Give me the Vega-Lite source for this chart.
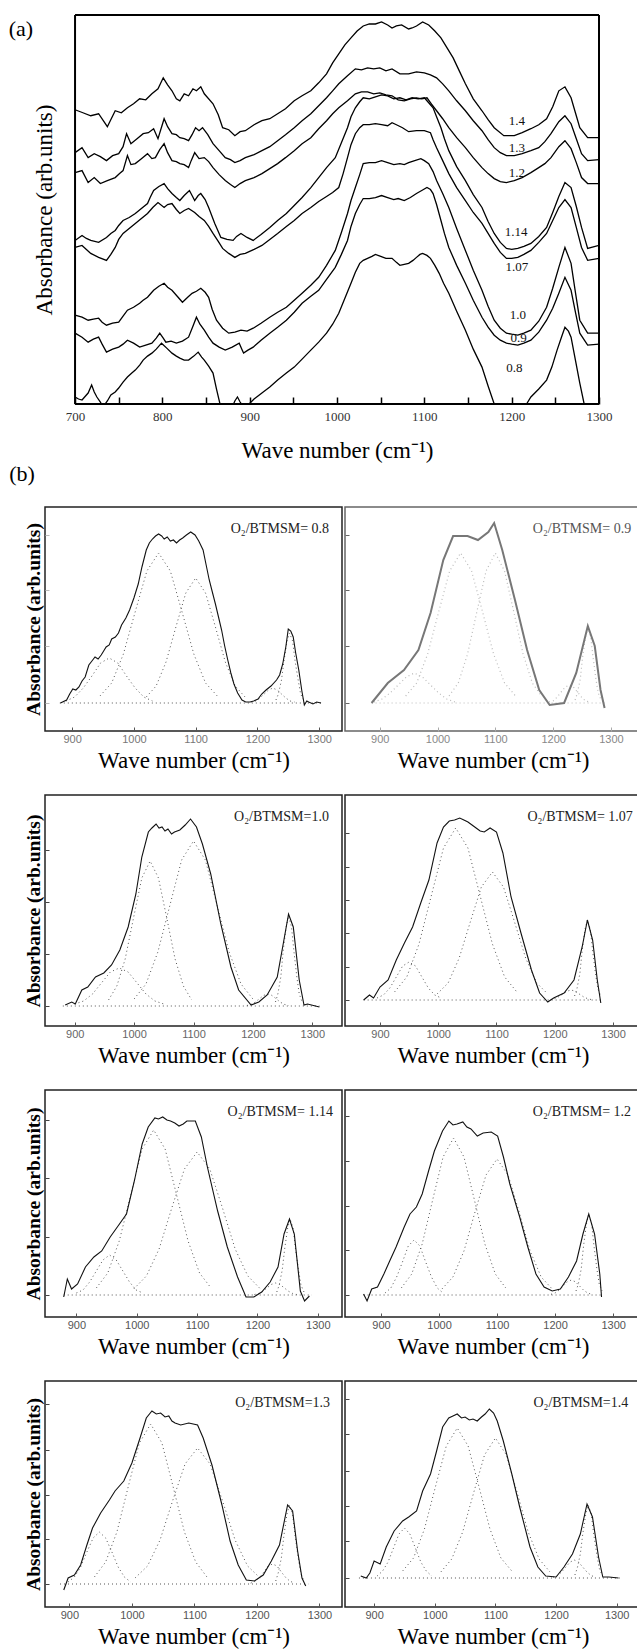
{
"$schema":"https://vega.github.io/schema/vega-lite/v6.json",
"background":"white",
"padding":{"left":8,"top":14,"right":0,"bottom":0},
"config":{"axis":{"grid":false},"view":{"stroke":"#000"}},
"datasets":{
"a":[
{"s":"1.4","x":700,"y":295},{"s":"1.4","x":709,"y":292},{"s":"1.4","x":718,"y":289},{"s":"1.4","x":727,"y":291},{"s":"1.4","x":737,"y":278},{"s":"1.4","x":746,"y":294},{"s":"1.4","x":753,"y":292},{"s":"1.4","x":760,"y":297},{"s":"1.4","x":767,"y":301},{"s":"1.4","x":774,"y":306},{"s":"1.4","x":781,"y":305},{"s":"1.4","x":788,"y":311},{"s":"1.4","x":795,"y":316},{"s":"1.4","x":801,"y":327},{"s":"1.4","x":806,"y":320},{"s":"1.4","x":811,"y":314},{"s":"1.4","x":816,"y":306},{"s":"1.4","x":820,"y":304},{"s":"1.4","x":825,"y":311},{"s":"1.4","x":830,"y":309},{"s":"1.4","x":835,"y":316},{"s":"1.4","x":839,"y":314},{"s":"1.4","x":844,"y":318},{"s":"1.4","x":848,"y":311},{"s":"1.4","x":858,"y":301},{"s":"1.4","x":864,"y":290},{"s":"1.4","x":869,"y":277},{"s":"1.4","x":876,"y":275},{"s":"1.4","x":883,"y":269},{"s":"1.4","x":889,"y":273},{"s":"1.4","x":895,"y":274},{"s":"1.4","x":905,"y":280},{"s":"1.4","x":914,"y":284},{"s":"1.4","x":923,"y":286},{"s":"1.4","x":932,"y":291},{"s":"1.4","x":941,"y":296},{"s":"1.4","x":951,"y":304},{"s":"1.4","x":960,"y":309},{"s":"1.4","x":970,"y":314},{"s":"1.4","x":979,"y":322},{"s":"1.4","x":988,"y":331},{"s":"1.4","x":995,"y":342},{"s":"1.4","x":1002,"y":351},{"s":"1.4","x":1009,"y":360},{"s":"1.4","x":1016,"y":367},{"s":"1.4","x":1023,"y":374},{"s":"1.4","x":1030,"y":379},{"s":"1.4","x":1037,"y":381},{"s":"1.4","x":1044,"y":381},{"s":"1.4","x":1051,"y":383},{"s":"1.4","x":1058,"y":380},{"s":"1.4","x":1063,"y":377},{"s":"1.4","x":1068,"y":379},{"s":"1.4","x":1074,"y":380},{"s":"1.4","x":1082,"y":376},{"s":"1.4","x":1086,"y":377},{"s":"1.4","x":1091,"y":379},{"s":"1.4","x":1098,"y":383},{"s":"1.4","x":1105,"y":380},{"s":"1.4","x":1112,"y":374},{"s":"1.4","x":1119,"y":367},{"s":"1.4","x":1126,"y":357},{"s":"1.4","x":1133,"y":347},{"s":"1.4","x":1140,"y":334},{"s":"1.4","x":1147,"y":321},{"s":"1.4","x":1156,"y":306},{"s":"1.4","x":1166,"y":294},{"s":"1.4","x":1173,"y":285},{"s":"1.4","x":1180,"y":277},{"s":"1.4","x":1191,"y":269},{"s":"1.4","x":1203,"y":269},{"s":"1.4","x":1212,"y":272},{"s":"1.4","x":1222,"y":276},{"s":"1.4","x":1231,"y":280},{"s":"1.4","x":1240,"y":286},{"s":"1.4","x":1247,"y":298},{"s":"1.4","x":1254,"y":314},{"s":"1.4","x":1261,"y":318},{"s":"1.4","x":1268,"y":307},{"s":"1.4","x":1273,"y":292},{"s":"1.4","x":1278,"y":277},{"s":"1.4","x":1287,"y":267},{"s":"1.4","x":1300,"y":267},
{"s":"1.3","x":700,"y":252},{"s":"1.3","x":708,"y":257},{"s":"1.3","x":715,"y":247},{"s":"1.3","x":722,"y":251},{"s":"1.3","x":729,"y":248},{"s":"1.3","x":736,"y":244},{"s":"1.3","x":743,"y":249},{"s":"1.3","x":750,"y":251},{"s":"1.3","x":755,"y":258},{"s":"1.3","x":759,"y":271},{"s":"1.3","x":764,"y":261},{"s":"1.3","x":771,"y":266},{"s":"1.3","x":778,"y":271},{"s":"1.3","x":784,"y":272},{"s":"1.3","x":790,"y":276},{"s":"1.3","x":795,"y":266},{"s":"1.3","x":802,"y":286},{"s":"1.3","x":806,"y":278},{"s":"1.3","x":811,"y":271},{"s":"1.3","x":816,"y":270},{"s":"1.3","x":820,"y":267},{"s":"1.3","x":825,"y":266},{"s":"1.3","x":830,"y":264},{"s":"1.3","x":834,"y":270},{"s":"1.3","x":838,"y":277},{"s":"1.3","x":842,"y":274},{"s":"1.3","x":846,"y":277},{"s":"1.3","x":852,"y":270},{"s":"1.3","x":858,"y":261},{"s":"1.3","x":865,"y":254},{"s":"1.3","x":872,"y":247},{"s":"1.3","x":878,"y":245},{"s":"1.3","x":883,"y":242},{"s":"1.3","x":889,"y":244},{"s":"1.3","x":895,"y":247},{"s":"1.3","x":905,"y":250},{"s":"1.3","x":914,"y":254},{"s":"1.3","x":923,"y":258},{"s":"1.3","x":932,"y":264},{"s":"1.3","x":941,"y":270},{"s":"1.3","x":951,"y":277},{"s":"1.3","x":960,"y":284},{"s":"1.3","x":970,"y":291},{"s":"1.3","x":979,"y":299},{"s":"1.3","x":988,"y":307},{"s":"1.3","x":995,"y":314},{"s":"1.3","x":1002,"y":321},{"s":"1.3","x":1012,"y":329},{"s":"1.3","x":1021,"y":336},{"s":"1.3","x":1028,"y":335},{"s":"1.3","x":1035,"y":337},{"s":"1.3","x":1042,"y":336},{"s":"1.3","x":1049,"y":337},{"s":"1.3","x":1056,"y":334},{"s":"1.3","x":1063,"y":336},{"s":"1.3","x":1072,"y":331},{"s":"1.3","x":1082,"y":331},{"s":"1.3","x":1091,"y":333},{"s":"1.3","x":1100,"y":332},{"s":"1.3","x":1107,"y":330},{"s":"1.3","x":1114,"y":327},{"s":"1.3","x":1121,"y":321},{"s":"1.3","x":1128,"y":314},{"s":"1.3","x":1137,"y":304},{"s":"1.3","x":1147,"y":294},{"s":"1.3","x":1156,"y":284},{"s":"1.3","x":1166,"y":274},{"s":"1.3","x":1173,"y":265},{"s":"1.3","x":1180,"y":257},{"s":"1.3","x":1187,"y":252},{"s":"1.3","x":1194,"y":249},{"s":"1.3","x":1203,"y":249},{"s":"1.3","x":1212,"y":251},{"s":"1.3","x":1222,"y":254},{"s":"1.3","x":1231,"y":257},{"s":"1.3","x":1238,"y":263},{"s":"1.3","x":1245,"y":271},{"s":"1.3","x":1254,"y":283},{"s":"1.3","x":1261,"y":289},{"s":"1.3","x":1268,"y":281},{"s":"1.3","x":1274,"y":266},{"s":"1.3","x":1280,"y":251},{"s":"1.3","x":1287,"y":244},{"s":"1.3","x":1300,"y":245},
{"s":"1.2","x":700,"y":232},{"s":"1.2","x":708,"y":234},{"s":"1.2","x":715,"y":222},{"s":"1.2","x":722,"y":227},{"s":"1.2","x":729,"y":221},{"s":"1.2","x":737,"y":224},{"s":"1.2","x":746,"y":227},{"s":"1.2","x":751,"y":231},{"s":"1.2","x":755,"y":234},{"s":"1.2","x":760,"y":249},{"s":"1.2","x":764,"y":240},{"s":"1.2","x":769,"y":241},{"s":"1.2","x":776,"y":246},{"s":"1.2","x":783,"y":251},{"s":"1.2","x":788,"y":246},{"s":"1.2","x":792,"y":247},{"s":"1.2","x":797,"y":255},{"s":"1.2","x":802,"y":261},{"s":"1.2","x":806,"y":252},{"s":"1.2","x":811,"y":244},{"s":"1.2","x":816,"y":243},{"s":"1.2","x":820,"y":241},{"s":"1.2","x":825,"y":240},{"s":"1.2","x":830,"y":237},{"s":"1.2","x":833,"y":244},{"s":"1.2","x":837,"y":252},{"s":"1.2","x":842,"y":246},{"s":"1.2","x":848,"y":247},{"s":"1.2","x":853,"y":243},{"s":"1.2","x":858,"y":237},{"s":"1.2","x":865,"y":230},{"s":"1.2","x":872,"y":224},{"s":"1.2","x":878,"y":220},{"s":"1.2","x":883,"y":217},{"s":"1.2","x":889,"y":221},{"s":"1.2","x":895,"y":224},{"s":"1.2","x":905,"y":227},{"s":"1.2","x":914,"y":231},{"s":"1.2","x":923,"y":236},{"s":"1.2","x":932,"y":241},{"s":"1.2","x":941,"y":247},{"s":"1.2","x":951,"y":254},{"s":"1.2","x":960,"y":261},{"s":"1.2","x":970,"y":267},{"s":"1.2","x":979,"y":276},{"s":"1.2","x":988,"y":284},{"s":"1.2","x":995,"y":291},{"s":"1.2","x":1002,"y":297},{"s":"1.2","x":1012,"y":304},{"s":"1.2","x":1021,"y":311},{"s":"1.2","x":1028,"y":313},{"s":"1.2","x":1035,"y":313},{"s":"1.2","x":1042,"y":311},{"s":"1.2","x":1049,"y":312},{"s":"1.2","x":1056,"y":310},{"s":"1.2","x":1063,"y":309},{"s":"1.2","x":1070,"y":305},{"s":"1.2","x":1077,"y":304},{"s":"1.2","x":1084,"y":306},{"s":"1.2","x":1091,"y":307},{"s":"1.2","x":1097,"y":306},{"s":"1.2","x":1103,"y":307},{"s":"1.2","x":1108,"y":301},{"s":"1.2","x":1114,"y":294},{"s":"1.2","x":1121,"y":286},{"s":"1.2","x":1128,"y":277},{"s":"1.2","x":1137,"y":267},{"s":"1.2","x":1147,"y":257},{"s":"1.2","x":1156,"y":247},{"s":"1.2","x":1166,"y":237},{"s":"1.2","x":1173,"y":231},{"s":"1.2","x":1180,"y":226},{"s":"1.2","x":1187,"y":223},{"s":"1.2","x":1194,"y":222},{"s":"1.2","x":1203,"y":224},{"s":"1.2","x":1212,"y":227},{"s":"1.2","x":1222,"y":232},{"s":"1.2","x":1231,"y":237},{"s":"1.2","x":1238,"y":241},{"s":"1.2","x":1245,"y":247},{"s":"1.2","x":1254,"y":258},{"s":"1.2","x":1261,"y":264},{"s":"1.2","x":1268,"y":256},{"s":"1.2","x":1274,"y":242},{"s":"1.2","x":1280,"y":227},{"s":"1.2","x":1287,"y":221},{"s":"1.2","x":1300,"y":221},
{"s":"1.14","x":700,"y":164},{"s":"1.14","x":708,"y":169},{"s":"1.14","x":713,"y":166},{"s":"1.14","x":718,"y":164},{"s":"1.14","x":727,"y":162},{"s":"1.14","x":736,"y":167},{"s":"1.14","x":741,"y":171},{"s":"1.14","x":746,"y":174},{"s":"1.14","x":750,"y":179},{"s":"1.14","x":755,"y":184},{"s":"1.14","x":762,"y":187},{"s":"1.14","x":769,"y":191},{"s":"1.14","x":776,"y":196},{"s":"1.14","x":783,"y":201},{"s":"1.14","x":786,"y":207},{"s":"1.14","x":790,"y":214},{"s":"1.14","x":796,"y":218},{"s":"1.14","x":802,"y":221},{"s":"1.14","x":806,"y":216},{"s":"1.14","x":811,"y":211},{"s":"1.14","x":816,"y":207},{"s":"1.14","x":820,"y":204},{"s":"1.14","x":825,"y":209},{"s":"1.14","x":831,"y":214},{"s":"1.14","x":834,"y":209},{"s":"1.14","x":837,"y":204},{"s":"1.14","x":841,"y":209},{"s":"1.14","x":844,"y":211},{"s":"1.14","x":849,"y":205},{"s":"1.14","x":853,"y":197},{"s":"1.14","x":860,"y":181},{"s":"1.14","x":867,"y":167},{"s":"1.14","x":874,"y":165},{"s":"1.14","x":881,"y":164},{"s":"1.14","x":885,"y":168},{"s":"1.14","x":890,"y":171},{"s":"1.14","x":897,"y":167},{"s":"1.14","x":904,"y":164},{"s":"1.14","x":913,"y":170},{"s":"1.14","x":923,"y":177},{"s":"1.14","x":932,"y":184},{"s":"1.14","x":942,"y":191},{"s":"1.14","x":951,"y":199},{"s":"1.14","x":960,"y":207},{"s":"1.14","x":970,"y":217},{"s":"1.14","x":979,"y":227},{"s":"1.14","x":988,"y":237},{"s":"1.14","x":998,"y":247},{"s":"1.14","x":1005,"y":262},{"s":"1.14","x":1012,"y":277},{"s":"1.14","x":1016,"y":288},{"s":"1.14","x":1021,"y":297},{"s":"1.14","x":1026,"y":303},{"s":"1.14","x":1030,"y":307},{"s":"1.14","x":1037,"y":306},{"s":"1.14","x":1044,"y":308},{"s":"1.14","x":1051,"y":310},{"s":"1.14","x":1058,"y":309},{"s":"1.14","x":1065,"y":306},{"s":"1.14","x":1072,"y":307},{"s":"1.14","x":1079,"y":305},{"s":"1.14","x":1086,"y":307},{"s":"1.14","x":1093,"y":306},{"s":"1.14","x":1100,"y":307},{"s":"1.14","x":1105,"y":302},{"s":"1.14","x":1110,"y":297},{"s":"1.14","x":1114,"y":288},{"s":"1.14","x":1119,"y":277},{"s":"1.14","x":1123,"y":266},{"s":"1.14","x":1128,"y":254},{"s":"1.14","x":1137,"y":238},{"s":"1.14","x":1147,"y":224},{"s":"1.14","x":1156,"y":210},{"s":"1.14","x":1166,"y":197},{"s":"1.14","x":1173,"y":183},{"s":"1.14","x":1180,"y":171},{"s":"1.14","x":1187,"y":162},{"s":"1.14","x":1194,"y":156},{"s":"1.14","x":1200,"y":155},{"s":"1.14","x":1207,"y":156},{"s":"1.14","x":1214,"y":158},{"s":"1.14","x":1222,"y":161},{"s":"1.14","x":1231,"y":168},{"s":"1.14","x":1240,"y":177},{"s":"1.14","x":1247,"y":192},{"s":"1.14","x":1254,"y":208},{"s":"1.14","x":1261,"y":222},{"s":"1.14","x":1268,"y":217},{"s":"1.14","x":1274,"y":198},{"s":"1.14","x":1280,"y":177},{"s":"1.14","x":1287,"y":156},{"s":"1.14","x":1300,"y":159},
{"s":"1.07","x":700,"y":157},{"s":"1.07","x":708,"y":159},{"s":"1.07","x":713,"y":155},{"s":"1.07","x":718,"y":151},{"s":"1.07","x":727,"y":147},{"s":"1.07","x":736,"y":144},{"s":"1.07","x":741,"y":150},{"s":"1.07","x":746,"y":157},{"s":"1.07","x":750,"y":165},{"s":"1.07","x":755,"y":171},{"s":"1.07","x":762,"y":176},{"s":"1.07","x":769,"y":181},{"s":"1.07","x":776,"y":186},{"s":"1.07","x":783,"y":191},{"s":"1.07","x":789,"y":197},{"s":"1.07","x":795,"y":202},{"s":"1.07","x":802,"y":197},{"s":"1.07","x":806,"y":200},{"s":"1.07","x":811,"y":201},{"s":"1.07","x":816,"y":195},{"s":"1.07","x":820,"y":191},{"s":"1.07","x":825,"y":194},{"s":"1.07","x":830,"y":196},{"s":"1.07","x":837,"y":192},{"s":"1.07","x":842,"y":188},{"s":"1.07","x":848,"y":184},{"s":"1.07","x":853,"y":178},{"s":"1.07","x":858,"y":171},{"s":"1.07","x":864,"y":163},{"s":"1.07","x":869,"y":156},{"s":"1.07","x":876,"y":151},{"s":"1.07","x":883,"y":147},{"s":"1.07","x":889,"y":150},{"s":"1.07","x":895,"y":151},{"s":"1.07","x":905,"y":155},{"s":"1.07","x":914,"y":159},{"s":"1.07","x":923,"y":165},{"s":"1.07","x":932,"y":171},{"s":"1.07","x":942,"y":178},{"s":"1.07","x":951,"y":184},{"s":"1.07","x":960,"y":191},{"s":"1.07","x":970,"y":197},{"s":"1.07","x":979,"y":203},{"s":"1.07","x":988,"y":208},{"s":"1.07","x":995,"y":212},{"s":"1.07","x":1002,"y":217},{"s":"1.07","x":1007,"y":231},{"s":"1.07","x":1012,"y":247},{"s":"1.07","x":1016,"y":260},{"s":"1.07","x":1021,"y":271},{"s":"1.07","x":1026,"y":277},{"s":"1.07","x":1030,"y":280},{"s":"1.07","x":1037,"y":280},{"s":"1.07","x":1044,"y":281},{"s":"1.07","x":1051,"y":280},{"s":"1.07","x":1058,"y":279},{"s":"1.07","x":1063,"y":282},{"s":"1.07","x":1068,"y":280},{"s":"1.07","x":1075,"y":277},{"s":"1.07","x":1082,"y":273},{"s":"1.07","x":1091,"y":274},{"s":"1.07","x":1100,"y":274},{"s":"1.07","x":1107,"y":272},{"s":"1.07","x":1110,"y":265},{"s":"1.07","x":1114,"y":257},{"s":"1.07","x":1121,"y":244},{"s":"1.07","x":1128,"y":231},{"s":"1.07","x":1137,"y":217},{"s":"1.07","x":1147,"y":204},{"s":"1.07","x":1156,"y":192},{"s":"1.07","x":1166,"y":181},{"s":"1.07","x":1173,"y":171},{"s":"1.07","x":1180,"y":161},{"s":"1.07","x":1187,"y":152},{"s":"1.07","x":1194,"y":146},{"s":"1.07","x":1200,"y":146},{"s":"1.07","x":1207,"y":147},{"s":"1.07","x":1214,"y":150},{"s":"1.07","x":1222,"y":154},{"s":"1.07","x":1231,"y":162},{"s":"1.07","x":1240,"y":171},{"s":"1.07","x":1247,"y":184},{"s":"1.07","x":1254,"y":197},{"s":"1.07","x":1261,"y":205},{"s":"1.07","x":1268,"y":197},{"s":"1.07","x":1274,"y":177},{"s":"1.07","x":1280,"y":157},{"s":"1.07","x":1287,"y":144},{"s":"1.07","x":1300,"y":146},
{"s":"1.0","x":700,"y":89},{"s":"1.0","x":708,"y":87},{"s":"1.0","x":715,"y":84},{"s":"1.0","x":721,"y":85},{"s":"1.0","x":727,"y":86},{"s":"1.0","x":731,"y":82},{"s":"1.0","x":736,"y":79},{"s":"1.0","x":743,"y":81},{"s":"1.0","x":750,"y":82},{"s":"1.0","x":755,"y":88},{"s":"1.0","x":760,"y":94},{"s":"1.0","x":767,"y":97},{"s":"1.0","x":774,"y":101},{"s":"1.0","x":778,"y":104},{"s":"1.0","x":783,"y":107},{"s":"1.0","x":787,"y":111},{"s":"1.0","x":790,"y":114},{"s":"1.0","x":796,"y":118},{"s":"1.0","x":802,"y":121},{"s":"1.0","x":806,"y":117},{"s":"1.0","x":811,"y":114},{"s":"1.0","x":817,"y":108},{"s":"1.0","x":823,"y":102},{"s":"1.0","x":829,"y":107},{"s":"1.0","x":834,"y":111},{"s":"1.0","x":839,"y":113},{"s":"1.0","x":844,"y":116},{"s":"1.0","x":849,"y":112},{"s":"1.0","x":853,"y":107},{"s":"1.0","x":857,"y":95},{"s":"1.0","x":862,"y":84},{"s":"1.0","x":869,"y":76},{"s":"1.0","x":876,"y":71},{"s":"1.0","x":883,"y":72},{"s":"1.0","x":890,"y":74},{"s":"1.0","x":897,"y":73},{"s":"1.0","x":904,"y":76},{"s":"1.0","x":913,"y":81},{"s":"1.0","x":923,"y":87},{"s":"1.0","x":932,"y":92},{"s":"1.0","x":942,"y":97},{"s":"1.0","x":951,"y":104},{"s":"1.0","x":960,"y":111},{"s":"1.0","x":970,"y":119},{"s":"1.0","x":979,"y":127},{"s":"1.0","x":988,"y":139},{"s":"1.0","x":998,"y":154},{"s":"1.0","x":1005,"y":172},{"s":"1.0","x":1012,"y":191},{"s":"1.0","x":1016,"y":204},{"s":"1.0","x":1021,"y":217},{"s":"1.0","x":1026,"y":230},{"s":"1.0","x":1030,"y":241},{"s":"1.0","x":1037,"y":242},{"s":"1.0","x":1044,"y":242},{"s":"1.0","x":1051,"y":244},{"s":"1.0","x":1058,"y":242},{"s":"1.0","x":1065,"y":240},{"s":"1.0","x":1072,"y":241},{"s":"1.0","x":1077,"y":240},{"s":"1.0","x":1082,"y":242},{"s":"1.0","x":1089,"y":244},{"s":"1.0","x":1096,"y":246},{"s":"1.0","x":1100,"y":244},{"s":"1.0","x":1105,"y":241},{"s":"1.0","x":1110,"y":233},{"s":"1.0","x":1114,"y":224},{"s":"1.0","x":1121,"y":211},{"s":"1.0","x":1128,"y":197},{"s":"1.0","x":1137,"y":176},{"s":"1.0","x":1147,"y":154},{"s":"1.0","x":1156,"y":134},{"s":"1.0","x":1166,"y":114},{"s":"1.0","x":1173,"y":98},{"s":"1.0","x":1180,"y":84},{"s":"1.0","x":1187,"y":76},{"s":"1.0","x":1194,"y":71},{"s":"1.0","x":1200,"y":70},{"s":"1.0","x":1207,"y":69},{"s":"1.0","x":1214,"y":71},{"s":"1.0","x":1222,"y":74},{"s":"1.0","x":1231,"y":83},{"s":"1.0","x":1240,"y":97},{"s":"1.0","x":1247,"y":116},{"s":"1.0","x":1254,"y":137},{"s":"1.0","x":1261,"y":157},{"s":"1.0","x":1268,"y":141},{"s":"1.0","x":1273,"y":112},{"s":"1.0","x":1278,"y":84},{"s":"1.0","x":1287,"y":71},{"s":"1.0","x":1300,"y":71},
{"s":"0.9","x":700,"y":71},{"s":"0.9","x":708,"y":67},{"s":"0.9","x":715,"y":62},{"s":"0.9","x":721,"y":65},{"s":"0.9","x":727,"y":67},{"s":"0.9","x":731,"y":60},{"s":"0.9","x":736,"y":52},{"s":"0.9","x":743,"y":55},{"s":"0.9","x":750,"y":57},{"s":"0.9","x":755,"y":60},{"s":"0.9","x":760,"y":64},{"s":"0.9","x":767,"y":61},{"s":"0.9","x":774,"y":57},{"s":"0.9","x":781,"y":59},{"s":"0.9","x":788,"y":61},{"s":"0.9","x":793,"y":66},{"s":"0.9","x":797,"y":71},{"s":"0.9","x":801,"y":66},{"s":"0.9","x":804,"y":62},{"s":"0.9","x":810,"y":63},{"s":"0.9","x":816,"y":61},{"s":"0.9","x":823,"y":63},{"s":"0.9","x":830,"y":67},{"s":"0.9","x":835,"y":78},{"s":"0.9","x":839,"y":87},{"s":"0.9","x":843,"y":80},{"s":"0.9","x":848,"y":74},{"s":"0.9","x":853,"y":67},{"s":"0.9","x":858,"y":61},{"s":"0.9","x":865,"y":57},{"s":"0.9","x":872,"y":54},{"s":"0.9","x":880,"y":57},{"s":"0.9","x":888,"y":61},{"s":"0.9","x":891,"y":55},{"s":"0.9","x":893,"y":51},{"s":"0.9","x":898,"y":54},{"s":"0.9","x":904,"y":57},{"s":"0.9","x":913,"y":64},{"s":"0.9","x":923,"y":71},{"s":"0.9","x":932,"y":77},{"s":"0.9","x":942,"y":84},{"s":"0.9","x":951,"y":92},{"s":"0.9","x":960,"y":101},{"s":"0.9","x":970,"y":108},{"s":"0.9","x":979,"y":114},{"s":"0.9","x":988,"y":125},{"s":"0.9","x":998,"y":137},{"s":"0.9","x":1005,"y":150},{"s":"0.9","x":1012,"y":164},{"s":"0.9","x":1016,"y":178},{"s":"0.9","x":1021,"y":191},{"s":"0.9","x":1026,"y":200},{"s":"0.9","x":1030,"y":206},{"s":"0.9","x":1037,"y":206},{"s":"0.9","x":1044,"y":207},{"s":"0.9","x":1051,"y":209},{"s":"0.9","x":1058,"y":207},{"s":"0.9","x":1065,"y":205},{"s":"0.9","x":1070,"y":206},{"s":"0.9","x":1077,"y":204},{"s":"0.9","x":1084,"y":207},{"s":"0.9","x":1091,"y":211},{"s":"0.9","x":1097,"y":214},{"s":"0.9","x":1103,"y":217},{"s":"0.9","x":1107,"y":215},{"s":"0.9","x":1110,"y":211},{"s":"0.9","x":1114,"y":200},{"s":"0.9","x":1119,"y":184},{"s":"0.9","x":1123,"y":171},{"s":"0.9","x":1128,"y":157},{"s":"0.9","x":1137,"y":139},{"s":"0.9","x":1147,"y":121},{"s":"0.9","x":1156,"y":104},{"s":"0.9","x":1166,"y":87},{"s":"0.9","x":1173,"y":77},{"s":"0.9","x":1180,"y":69},{"s":"0.9","x":1187,"y":64},{"s":"0.9","x":1194,"y":61},{"s":"0.9","x":1200,"y":60},{"s":"0.9","x":1207,"y":59},{"s":"0.9","x":1214,"y":61},{"s":"0.9","x":1222,"y":64},{"s":"0.9","x":1231,"y":72},{"s":"0.9","x":1240,"y":84},{"s":"0.9","x":1247,"y":96},{"s":"0.9","x":1254,"y":111},{"s":"0.9","x":1261,"y":127},{"s":"0.9","x":1268,"y":114},{"s":"0.9","x":1273,"y":92},{"s":"0.9","x":1278,"y":71},{"s":"0.9","x":1287,"y":59},{"s":"0.9","x":1300,"y":60},
{"s":"0.8","x":700,"y":7},{"s":"0.8","x":704,"y":5},{"s":"0.8","x":708,"y":4},{"s":"0.8","x":712,"y":8},{"s":"0.8","x":715,"y":11},{"s":"0.8","x":719,"y":19},{"s":"0.8","x":722,"y":12},{"s":"0.8","x":725,"y":7},{"s":"0.8","x":729,"y":2},{"s":"0.8","x":732,"y":-3},{"s":"0.8","x":737,"y":3},{"s":"0.8","x":741,"y":9},{"s":"0.8","x":746,"y":12},{"s":"0.8","x":750,"y":16},{"s":"0.8","x":755,"y":22},{"s":"0.8","x":760,"y":27},{"s":"0.8","x":765,"y":31},{"s":"0.8","x":769,"y":34},{"s":"0.8","x":774,"y":39},{"s":"0.8","x":778,"y":44},{"s":"0.8","x":783,"y":48},{"s":"0.8","x":788,"y":51},{"s":"0.8","x":793,"y":55},{"s":"0.8","x":799,"y":61},{"s":"0.8","x":805,"y":56},{"s":"0.8","x":811,"y":51},{"s":"0.8","x":816,"y":48},{"s":"0.8","x":820,"y":46},{"s":"0.8","x":825,"y":44},{"s":"0.8","x":830,"y":44},{"s":"0.8","x":836,"y":48},{"s":"0.8","x":841,"y":52},{"s":"0.8","x":845,"y":47},{"s":"0.8","x":848,"y":44},{"s":"0.8","x":853,"y":38},{"s":"0.8","x":858,"y":31},{"s":"0.8","x":862,"y":15},{"s":"0.8","x":866,"y":0},{"s":"0.8","x":869,"y":-5},{"s":"0.8","x":876,"y":-5},{"s":"0.8","x":880,"y":-3},{"s":"0.8","x":883,"y":3},{"s":"0.8","x":886,"y":7},{"s":"0.8","x":889,"y":2},{"s":"0.8","x":893,"y":-3},{"s":"0.8","x":897,"y":-2},{"s":"0.8","x":905,"y":5},{"s":"0.8","x":914,"y":11},{"s":"0.8","x":923,"y":17},{"s":"0.8","x":932,"y":24},{"s":"0.8","x":942,"y":31},{"s":"0.8","x":951,"y":37},{"s":"0.8","x":960,"y":45},{"s":"0.8","x":970,"y":54},{"s":"0.8","x":979,"y":62},{"s":"0.8","x":988,"y":71},{"s":"0.8","x":995,"y":80},{"s":"0.8","x":1002,"y":91},{"s":"0.8","x":1009,"y":106},{"s":"0.8","x":1016,"y":121},{"s":"0.8","x":1021,"y":132},{"s":"0.8","x":1026,"y":141},{"s":"0.8","x":1030,"y":144},{"s":"0.8","x":1035,"y":146},{"s":"0.8","x":1040,"y":148},{"s":"0.8","x":1044,"y":150},{"s":"0.8","x":1050,"y":148},{"s":"0.8","x":1056,"y":146},{"s":"0.8","x":1063,"y":146},{"s":"0.8","x":1068,"y":142},{"s":"0.8","x":1072,"y":139},{"s":"0.8","x":1077,"y":140},{"s":"0.8","x":1082,"y":141},{"s":"0.8","x":1087,"y":144},{"s":"0.8","x":1091,"y":147},{"s":"0.8","x":1095,"y":150},{"s":"0.8","x":1098,"y":151},{"s":"0.8","x":1103,"y":149},{"s":"0.8","x":1107,"y":146},{"s":"0.8","x":1112,"y":139},{"s":"0.8","x":1117,"y":131},{"s":"0.8","x":1122,"y":121},{"s":"0.8","x":1128,"y":111},{"s":"0.8","x":1137,"y":93},{"s":"0.8","x":1147,"y":74},{"s":"0.8","x":1156,"y":55},{"s":"0.8","x":1166,"y":37},{"s":"0.8","x":1173,"y":18},{"s":"0.8","x":1180,"y":0},{"s":"0.8","x":1190,"y":-20},{"s":"0.8","x":1205,"y":-20},{"s":"0.8","x":1217,"y":0},{"s":"0.8","x":1222,"y":7},{"s":"0.8","x":1231,"y":15},{"s":"0.8","x":1240,"y":24},{"s":"0.8","x":1246,"y":37},{"s":"0.8","x":1252,"y":54},{"s":"0.8","x":1257,"y":67},{"s":"0.8","x":1261,"y":77},{"s":"0.8","x":1265,"y":73},{"s":"0.8","x":1268,"y":67},{"s":"0.8","x":1273,"y":44},{"s":"0.8","x":1278,"y":21},{"s":"0.8","x":1283,"y":0},{"s":"0.8","x":1290,"y":-10},{"s":"0.8","x":1300,"y":-10}
],
"al":[
{"t":"1.4","x":1206,"y":284},{"t":"1.3","x":1206,"y":257},{"t":"1.2","x":1206,"y":232},{"t":"1.14","x":1205,"y":172},{"t":"1.07","x":1206,"y":137},{"t":"1.0","x":1207,"y":89},{"t":"0.9","x":1208,"y":66},{"t":"0.8","x":1203,"y":36}
],
"b":[
{"p":"p08","s":"m","x":881,"y":0},{"p":"p08","s":"m","x":891,"y":3},{"p":"p08","s":"m","x":896,"y":9},{"p":"p08","s":"m","x":901,"y":14},{"p":"p08","s":"m","x":906,"y":13},{"p":"p08","s":"m","x":911,"y":16},{"p":"p08","s":"m","x":916,"y":22},{"p":"p08","s":"m","x":921,"y":26},{"p":"p08","s":"m","x":927,"y":38},{"p":"p08","s":"m","x":932,"y":42},{"p":"p08","s":"m","x":937,"y":46},{"p":"p08","s":"m","x":942,"y":44},{"p":"p08","s":"m","x":947,"y":48},{"p":"p08","s":"m","x":951,"y":52},{"p":"p08","s":"m","x":955,"y":56},{"p":"p08","s":"m","x":960,"y":58},{"p":"p08","s":"m","x":964,"y":64},{"p":"p08","s":"m","x":970,"y":66},{"p":"p08","s":"m","x":975,"y":70},{"p":"p08","s":"m","x":980,"y":78},{"p":"p08","s":"m","x":987,"y":85},{"p":"p08","s":"m","x":993,"y":93},{"p":"p08","s":"m","x":1000,"y":105},{"p":"p08","s":"m","x":1007,"y":119},{"p":"p08","s":"m","x":1013,"y":136},{"p":"p08","s":"m","x":1020,"y":153},{"p":"p08","s":"m","x":1025,"y":160},{"p":"p08","s":"m","x":1030,"y":164},{"p":"p08","s":"m","x":1035,"y":167},{"p":"p08","s":"m","x":1040,"y":169},{"p":"p08","s":"m","x":1045,"y":167},{"p":"p08","s":"m","x":1049,"y":164},{"p":"p08","s":"m","x":1054,"y":166},{"p":"p08","s":"m","x":1059,"y":162},{"p":"p08","s":"m","x":1064,"y":163},{"p":"p08","s":"m","x":1069,"y":160},{"p":"p08","s":"m","x":1074,"y":163},{"p":"p08","s":"m","x":1079,"y":165},{"p":"p08","s":"m","x":1085,"y":168},{"p":"p08","s":"m","x":1092,"y":171},{"p":"p08","s":"m","x":1099,"y":168},{"p":"p08","s":"m","x":1105,"y":162},{"p":"p08","s":"m","x":1112,"y":153},{"p":"p08","s":"m","x":1117,"y":138},{"p":"p08","s":"m","x":1122,"y":123},{"p":"p08","s":"m","x":1127,"y":111},{"p":"p08","s":"m","x":1132,"y":99},{"p":"p08","s":"m","x":1137,"y":86},{"p":"p08","s":"m","x":1142,"y":73},{"p":"p08","s":"m","x":1147,"y":57},{"p":"p08","s":"m","x":1152,"y":43},{"p":"p08","s":"m","x":1157,"y":30},{"p":"p08","s":"m","x":1162,"y":19},{"p":"p08","s":"m","x":1168,"y":10},{"p":"p08","s":"m","x":1175,"y":3},{"p":"p08","s":"m","x":1181,"y":1},{"p":"p08","s":"m","x":1188,"y":1},{"p":"p08","s":"m","x":1194,"y":2},{"p":"p08","s":"m","x":1201,"y":4},{"p":"p08","s":"m","x":1207,"y":9},{"p":"p08","s":"m","x":1214,"y":13},{"p":"p08","s":"m","x":1222,"y":17},{"p":"p08","s":"m","x":1231,"y":23},{"p":"p08","s":"m","x":1236,"y":28},{"p":"p08","s":"m","x":1241,"y":39},{"p":"p08","s":"m","x":1246,"y":56},{"p":"p08","s":"m","x":1250,"y":74},{"p":"p08","s":"m","x":1254,"y":72},{"p":"p08","s":"m","x":1258,"y":66},{"p":"p08","s":"m","x":1262,"y":50},{"p":"p08","s":"m","x":1267,"y":33},{"p":"p08","s":"m","x":1272,"y":12},{"p":"p08","s":"m","x":1276,"y":-2},{"p":"p08","s":"m","x":1280,"y":2},{"p":"p08","s":"m","x":1283,"y":1},{"p":"p08","s":"m","x":1290,"y":-1},{"p":"p08","s":"m","x":1296,"y":1},{"p":"p08","s":"m","x":1303,"y":0},
{"p":"p08","s":"g1","x":890,"y":2},{"p":"p08","s":"g1","x":904,"y":6},{"p":"p08","s":"g1","x":918,"y":15},{"p":"p08","s":"g1","x":932,"y":27},{"p":"p08","s":"g1","x":946,"y":40},{"p":"p08","s":"g1","x":960,"y":45},{"p":"p08","s":"g1","x":974,"y":40},{"p":"p08","s":"g1","x":988,"y":27},{"p":"p08","s":"g1","x":1002,"y":15},{"p":"p08","s":"g1","x":1016,"y":6},{"p":"p08","s":"g1","x":1030,"y":2},
{"p":"p08","s":"g2","x":945,"y":7},{"p":"p08","s":"g2","x":964,"y":20},{"p":"p08","s":"g2","x":983,"y":49},{"p":"p08","s":"g2","x":1002,"y":91},{"p":"p08","s":"g2","x":1021,"y":132},{"p":"p08","s":"g2","x":1040,"y":150},{"p":"p08","s":"g2","x":1059,"y":132},{"p":"p08","s":"g2","x":1078,"y":91},{"p":"p08","s":"g2","x":1097,"y":49},{"p":"p08","s":"g2","x":1116,"y":20},{"p":"p08","s":"g2","x":1135,"y":7},
{"p":"p08","s":"g3","x":1020,"y":6},{"p":"p08","s":"g3","x":1036,"y":17},{"p":"p08","s":"g3","x":1052,"y":41},{"p":"p08","s":"g3","x":1068,"y":76},{"p":"p08","s":"g3","x":1084,"y":110},{"p":"p08","s":"g3","x":1100,"y":125},{"p":"p08","s":"g3","x":1116,"y":110},{"p":"p08","s":"g3","x":1132,"y":76},{"p":"p08","s":"g3","x":1148,"y":41},{"p":"p08","s":"g3","x":1164,"y":17},{"p":"p08","s":"g3","x":1180,"y":6},
{"p":"p08","s":"g4","x":1190,"y":1},{"p":"p08","s":"g4","x":1197,"y":2},{"p":"p08","s":"g4","x":1204,"y":5},{"p":"p08","s":"g4","x":1211,"y":9},{"p":"p08","s":"g4","x":1218,"y":13},{"p":"p08","s":"g4","x":1225,"y":15},{"p":"p08","s":"g4","x":1232,"y":13},{"p":"p08","s":"g4","x":1239,"y":9},{"p":"p08","s":"g4","x":1246,"y":5},{"p":"p08","s":"g4","x":1253,"y":2},{"p":"p08","s":"g4","x":1260,"y":1},
{"p":"p08","s":"g5","x":1230,"y":3},{"p":"p08","s":"g5","x":1234,"y":9},{"p":"p08","s":"g5","x":1239,"y":23},{"p":"p08","s":"g5","x":1243,"y":42},{"p":"p08","s":"g5","x":1248,"y":62},{"p":"p08","s":"g5","x":1252,"y":70},{"p":"p08","s":"g5","x":1257,"y":62},{"p":"p08","s":"g5","x":1261,"y":42},{"p":"p08","s":"g5","x":1266,"y":23},{"p":"p08","s":"g5","x":1270,"y":9},{"p":"p08","s":"g5","x":1275,"y":3},
{"p":"p08","s":"b","x":880,"y":0},{"p":"p08","s":"b","x":1305,"y":0},
{"p":"p09","s":"m","x":886,"y":0},{"p":"p09","s":"m","x":914,"y":20},{"p":"p09","s":"m","x":942,"y":33},{"p":"p09","s":"m","x":967,"y":53},{"p":"p09","s":"m","x":988,"y":90},{"p":"p09","s":"m","x":1010,"y":143},{"p":"p09","s":"m","x":1027,"y":167},{"p":"p09","s":"m","x":1052,"y":167},{"p":"p09","s":"m","x":1070,"y":163},{"p":"p09","s":"m","x":1088,"y":171},{"p":"p09","s":"m","x":1098,"y":180},{"p":"p09","s":"m","x":1112,"y":153},{"p":"p09","s":"m","x":1134,"y":103},{"p":"p09","s":"m","x":1155,"y":53},{"p":"p09","s":"m","x":1176,"y":13},{"p":"p09","s":"m","x":1194,"y":-2},{"p":"p09","s":"m","x":1219,"y":0},{"p":"p09","s":"m","x":1240,"y":30},{"p":"p09","s":"m","x":1260,"y":77},{"p":"p09","s":"m","x":1272,"y":57},{"p":"p09","s":"m","x":1282,"y":13},{"p":"p09","s":"m","x":1289,"y":-5},
{"p":"p09","s":"g1","x":890,"y":1},{"p":"p09","s":"g1","x":904,"y":4},{"p":"p09","s":"g1","x":918,"y":10},{"p":"p09","s":"g1","x":932,"y":18},{"p":"p09","s":"g1","x":946,"y":26},{"p":"p09","s":"g1","x":960,"y":30},{"p":"p09","s":"g1","x":974,"y":26},{"p":"p09","s":"g1","x":988,"y":18},{"p":"p09","s":"g1","x":1002,"y":10},{"p":"p09","s":"g1","x":1016,"y":4},{"p":"p09","s":"g1","x":1030,"y":1},
{"p":"p09","s":"g2","x":945,"y":7},{"p":"p09","s":"g2","x":964,"y":20},{"p":"p09","s":"g2","x":983,"y":49},{"p":"p09","s":"g2","x":1002,"y":91},{"p":"p09","s":"g2","x":1021,"y":132},{"p":"p09","s":"g2","x":1040,"y":150},{"p":"p09","s":"g2","x":1059,"y":132},{"p":"p09","s":"g2","x":1078,"y":91},{"p":"p09","s":"g2","x":1097,"y":49},{"p":"p09","s":"g2","x":1116,"y":20},{"p":"p09","s":"g2","x":1135,"y":7},
{"p":"p09","s":"g3","x":1020,"y":7},{"p":"p09","s":"g3","x":1036,"y":20},{"p":"p09","s":"g3","x":1052,"y":49},{"p":"p09","s":"g3","x":1068,"y":91},{"p":"p09","s":"g3","x":1084,"y":132},{"p":"p09","s":"g3","x":1100,"y":150},{"p":"p09","s":"g3","x":1116,"y":132},{"p":"p09","s":"g3","x":1132,"y":91},{"p":"p09","s":"g3","x":1148,"y":49},{"p":"p09","s":"g3","x":1164,"y":20},{"p":"p09","s":"g3","x":1180,"y":7},
{"p":"p09","s":"g4","x":1193,"y":1},{"p":"p09","s":"g4","x":1200,"y":2},{"p":"p09","s":"g4","x":1207,"y":6},{"p":"p09","s":"g4","x":1214,"y":11},{"p":"p09","s":"g4","x":1221,"y":16},{"p":"p09","s":"g4","x":1228,"y":18},{"p":"p09","s":"g4","x":1235,"y":16},{"p":"p09","s":"g4","x":1242,"y":11},{"p":"p09","s":"g4","x":1249,"y":6},{"p":"p09","s":"g4","x":1256,"y":2},{"p":"p09","s":"g4","x":1263,"y":1},
{"p":"p09","s":"g5","x":1238,"y":3},{"p":"p09","s":"g5","x":1242,"y":10},{"p":"p09","s":"g5","x":1247,"y":24},{"p":"p09","s":"g5","x":1251,"y":46},{"p":"p09","s":"g5","x":1256,"y":66},{"p":"p09","s":"g5","x":1260,"y":75},{"p":"p09","s":"g5","x":1265,"y":66},{"p":"p09","s":"g5","x":1269,"y":46},{"p":"p09","s":"g5","x":1274,"y":24},{"p":"p09","s":"g5","x":1278,"y":10},{"p":"p09","s":"g5","x":1283,"y":3},
{"p":"p09","s":"b","x":886,"y":0},{"p":"p09","s":"b","x":1290,"y":0},
{"p":"p10","s":"m","x":884,"y":1},{"p":"p10","s":"m","x":895,"y":4},{"p":"p10","s":"m","x":901,"y":2},{"p":"p10","s":"m","x":912,"y":16},{"p":"p10","s":"m","x":922,"y":19},{"p":"p10","s":"m","x":935,"y":29},{"p":"p10","s":"m","x":949,"y":33},{"p":"p10","s":"m","x":962,"y":41},{"p":"p10","s":"m","x":976,"y":56},{"p":"p10","s":"m","x":990,"y":79},{"p":"p10","s":"m","x":1003,"y":112},{"p":"p10","s":"m","x":1013,"y":149},{"p":"p10","s":"m","x":1024,"y":174},{"p":"p10","s":"m","x":1030,"y":178},{"p":"p10","s":"m","x":1037,"y":182},{"p":"p10","s":"m","x":1042,"y":178},{"p":"p10","s":"m","x":1047,"y":179},{"p":"p10","s":"m","x":1052,"y":175},{"p":"p10","s":"m","x":1057,"y":177},{"p":"p10","s":"m","x":1063,"y":172},{"p":"p10","s":"m","x":1068,"y":174},{"p":"p10","s":"m","x":1077,"y":176},{"p":"p10","s":"m","x":1086,"y":181},{"p":"p10","s":"m","x":1095,"y":187},{"p":"p10","s":"m","x":1105,"y":179},{"p":"p10","s":"m","x":1115,"y":162},{"p":"p10","s":"m","x":1129,"y":132},{"p":"p10","s":"m","x":1146,"y":82},{"p":"p10","s":"m","x":1163,"y":39},{"p":"p10","s":"m","x":1176,"y":16},{"p":"p10","s":"m","x":1197,"y":1},{"p":"p10","s":"m","x":1210,"y":4},{"p":"p10","s":"m","x":1224,"y":11},{"p":"p10","s":"m","x":1241,"y":29},{"p":"p10","s":"m","x":1251,"y":62},{"p":"p10","s":"m","x":1260,"y":92},{"p":"p10","s":"m","x":1268,"y":79},{"p":"p10","s":"m","x":1278,"y":26},{"p":"p10","s":"m","x":1286,"y":1},{"p":"p10","s":"m","x":1292,"y":2},{"p":"p10","s":"m","x":1312,"y":-1},
{"p":"p10","s":"g1","x":900,"y":2},{"p":"p10","s":"g1","x":915,"y":5},{"p":"p10","s":"g1","x":930,"y":12},{"p":"p10","s":"g1","x":945,"y":23},{"p":"p10","s":"g1","x":960,"y":34},{"p":"p10","s":"g1","x":975,"y":38},{"p":"p10","s":"g1","x":990,"y":34},{"p":"p10","s":"g1","x":1005,"y":23},{"p":"p10","s":"g1","x":1020,"y":12},{"p":"p10","s":"g1","x":1035,"y":5},{"p":"p10","s":"g1","x":1050,"y":2},
{"p":"p10","s":"g2","x":957,"y":6},{"p":"p10","s":"g2","x":971,"y":20},{"p":"p10","s":"g2","x":985,"y":47},{"p":"p10","s":"g2","x":999,"y":88},{"p":"p10","s":"g2","x":1013,"y":128},{"p":"p10","s":"g2","x":1027,"y":145},{"p":"p10","s":"g2","x":1041,"y":128},{"p":"p10","s":"g2","x":1055,"y":88},{"p":"p10","s":"g2","x":1069,"y":47},{"p":"p10","s":"g2","x":1083,"y":20},{"p":"p10","s":"g2","x":1097,"y":6},
{"p":"p10","s":"g3","x":1000,"y":7},{"p":"p10","s":"g3","x":1020,"y":22},{"p":"p10","s":"g3","x":1040,"y":54},{"p":"p10","s":"g3","x":1060,"y":100},{"p":"p10","s":"g3","x":1080,"y":146},{"p":"p10","s":"g3","x":1100,"y":165},{"p":"p10","s":"g3","x":1120,"y":146},{"p":"p10","s":"g3","x":1140,"y":100},{"p":"p10","s":"g3","x":1160,"y":54},{"p":"p10","s":"g3","x":1180,"y":22},{"p":"p10","s":"g3","x":1200,"y":7},
{"p":"p10","s":"g4","x":1190,"y":0.5},{"p":"p10","s":"g4","x":1197,"y":1.6},{"p":"p10","s":"g4","x":1204,"y":3.9},{"p":"p10","s":"g4","x":1211,"y":7.3},{"p":"p10","s":"g4","x":1218,"y":10.6},{"p":"p10","s":"g4","x":1225,"y":12},{"p":"p10","s":"g4","x":1232,"y":10.6},{"p":"p10","s":"g4","x":1239,"y":7.3},{"p":"p10","s":"g4","x":1246,"y":3.9},{"p":"p10","s":"g4","x":1253,"y":1.6},{"p":"p10","s":"g4","x":1260,"y":0.5},
{"p":"p10","s":"g5","x":1238,"y":4},{"p":"p10","s":"g5","x":1242,"y":12},{"p":"p10","s":"g5","x":1247,"y":29},{"p":"p10","s":"g5","x":1251,"y":55},{"p":"p10","s":"g5","x":1256,"y":79},{"p":"p10","s":"g5","x":1260,"y":90},{"p":"p10","s":"g5","x":1265,"y":79},{"p":"p10","s":"g5","x":1269,"y":55},{"p":"p10","s":"g5","x":1274,"y":29},{"p":"p10","s":"g5","x":1278,"y":12},{"p":"p10","s":"g5","x":1283,"y":4},
{"p":"p10","s":"b","x":880,"y":0},{"p":"p10","s":"b","x":1312,"y":0},
{"p":"p107","s":"m","x":872,"y":0},{"p":"p107","s":"m","x":882,"y":5},{"p":"p107","s":"m","x":889,"y":2},{"p":"p107","s":"m","x":900,"y":13},{"p":"p107","s":"m","x":914,"y":20},{"p":"p107","s":"m","x":928,"y":40},{"p":"p107","s":"m","x":942,"y":57},{"p":"p107","s":"m","x":956,"y":73},{"p":"p107","s":"m","x":970,"y":97},{"p":"p107","s":"m","x":984,"y":120},{"p":"p107","s":"m","x":998,"y":157},{"p":"p107","s":"m","x":1009,"y":173},{"p":"p107","s":"m","x":1019,"y":179},{"p":"p107","s":"m","x":1028,"y":180},{"p":"p107","s":"m","x":1037,"y":182},{"p":"p107","s":"m","x":1044,"y":180},{"p":"p107","s":"m","x":1051,"y":178},{"p":"p107","s":"m","x":1058,"y":175},{"p":"p107","s":"m","x":1065,"y":172},{"p":"p107","s":"m","x":1072,"y":169},{"p":"p107","s":"m","x":1079,"y":168},{"p":"p107","s":"m","x":1089,"y":172},{"p":"p107","s":"m","x":1100,"y":168},{"p":"p107","s":"m","x":1111,"y":147},{"p":"p107","s":"m","x":1125,"y":103},{"p":"p107","s":"m","x":1142,"y":67},{"p":"p107","s":"m","x":1160,"y":30},{"p":"p107","s":"m","x":1174,"y":7},{"p":"p107","s":"m","x":1188,"y":-2},{"p":"p107","s":"m","x":1198,"y":2},{"p":"p107","s":"m","x":1216,"y":7},{"p":"p107","s":"m","x":1233,"y":20},{"p":"p107","s":"m","x":1247,"y":53},{"p":"p107","s":"m","x":1256,"y":80},{"p":"p107","s":"m","x":1265,"y":60},{"p":"p107","s":"m","x":1273,"y":20},{"p":"p107","s":"m","x":1279,"y":-3},
{"p":"p107","s":"g1","x":895,"y":2},{"p":"p107","s":"g1","x":906,"y":5},{"p":"p107","s":"g1","x":917,"y":12},{"p":"p107","s":"g1","x":928,"y":23},{"p":"p107","s":"g1","x":939,"y":34},{"p":"p107","s":"g1","x":950,"y":38},{"p":"p107","s":"g1","x":961,"y":34},{"p":"p107","s":"g1","x":972,"y":23},{"p":"p107","s":"g1","x":983,"y":12},{"p":"p107","s":"g1","x":994,"y":5},{"p":"p107","s":"g1","x":1005,"y":2},
{"p":"p107","s":"g2","x":925,"y":8},{"p":"p107","s":"g2","x":946,"y":23},{"p":"p107","s":"g2","x":967,"y":56},{"p":"p107","s":"g2","x":988,"y":104},{"p":"p107","s":"g2","x":1009,"y":152},{"p":"p107","s":"g2","x":1030,"y":172},{"p":"p107","s":"g2","x":1051,"y":152},{"p":"p107","s":"g2","x":1072,"y":104},{"p":"p107","s":"g2","x":1093,"y":56},{"p":"p107","s":"g2","x":1114,"y":23},{"p":"p107","s":"g2","x":1135,"y":8},
{"p":"p107","s":"g3","x":998,"y":6},{"p":"p107","s":"g3","x":1017,"y":17},{"p":"p107","s":"g3","x":1036,"y":42},{"p":"p107","s":"g3","x":1055,"y":78},{"p":"p107","s":"g3","x":1074,"y":113},{"p":"p107","s":"g3","x":1093,"y":128},{"p":"p107","s":"g3","x":1112,"y":113},{"p":"p107","s":"g3","x":1131,"y":78},{"p":"p107","s":"g3","x":1150,"y":42},{"p":"p107","s":"g3","x":1169,"y":17},{"p":"p107","s":"g3","x":1188,"y":6},
{"p":"p107","s":"g4","x":1193,"y":0.4},{"p":"p107","s":"g4","x":1200,"y":1.4},{"p":"p107","s":"g4","x":1207,"y":3.3},{"p":"p107","s":"g4","x":1214,"y":6},{"p":"p107","s":"g4","x":1221,"y":8.8},{"p":"p107","s":"g4","x":1228,"y":10},{"p":"p107","s":"g4","x":1235,"y":8.8},{"p":"p107","s":"g4","x":1242,"y":6},{"p":"p107","s":"g4","x":1249,"y":3.3},{"p":"p107","s":"g4","x":1256,"y":1.4},{"p":"p107","s":"g4","x":1263,"y":0.4},
{"p":"p107","s":"g5","x":1234,"y":4},{"p":"p107","s":"g5","x":1238,"y":11},{"p":"p107","s":"g5","x":1243,"y":26},{"p":"p107","s":"g5","x":1247,"y":49},{"p":"p107","s":"g5","x":1252,"y":71},{"p":"p107","s":"g5","x":1256,"y":80},{"p":"p107","s":"g5","x":1261,"y":71},{"p":"p107","s":"g5","x":1265,"y":49},{"p":"p107","s":"g5","x":1270,"y":26},{"p":"p107","s":"g5","x":1274,"y":11},{"p":"p107","s":"g5","x":1279,"y":4},
{"p":"p107","s":"b","x":872,"y":0},{"p":"p107","s":"b","x":1280,"y":0},
{"p":"p114","s":"m","x":879,"y":-2},{"p":"p114","s":"m","x":885,"y":16},{"p":"p114","s":"m","x":892,"y":6},{"p":"p114","s":"m","x":902,"y":11},{"p":"p114","s":"m","x":915,"y":28},{"p":"p114","s":"m","x":929,"y":38},{"p":"p114","s":"m","x":942,"y":44},{"p":"p114","s":"m","x":956,"y":58},{"p":"p114","s":"m","x":969,"y":69},{"p":"p114","s":"m","x":983,"y":81},{"p":"p114","s":"m","x":996,"y":114},{"p":"p114","s":"m","x":1009,"y":151},{"p":"p114","s":"m","x":1019,"y":168},{"p":"p114","s":"m","x":1030,"y":177},{"p":"p114","s":"m","x":1036,"y":176},{"p":"p114","s":"m","x":1043,"y":178},{"p":"p114","s":"m","x":1050,"y":175},{"p":"p114","s":"m","x":1056,"y":174},{"p":"p114","s":"m","x":1063,"y":172},{"p":"p114","s":"m","x":1070,"y":169},{"p":"p114","s":"m","x":1077,"y":171},{"p":"p114","s":"m","x":1083,"y":174},{"p":"p114","s":"m","x":1097,"y":174},{"p":"p114","s":"m","x":1107,"y":158},{"p":"p114","s":"m","x":1117,"y":128},{"p":"p114","s":"m","x":1134,"y":84},{"p":"p114","s":"m","x":1150,"y":48},{"p":"p114","s":"m","x":1167,"y":18},{"p":"p114","s":"m","x":1181,"y":-2},{"p":"p114","s":"m","x":1194,"y":-2},{"p":"p114","s":"m","x":1207,"y":3},{"p":"p114","s":"m","x":1221,"y":13},{"p":"p114","s":"m","x":1234,"y":28},{"p":"p114","s":"m","x":1244,"y":61},{"p":"p114","s":"m","x":1253,"y":76},{"p":"p114","s":"m","x":1261,"y":61},{"p":"p114","s":"m","x":1271,"y":4},{"p":"p114","s":"m","x":1278,"y":-6},{"p":"p114","s":"m","x":1286,"y":-1},
{"p":"p114","s":"g1","x":900,"y":2},{"p":"p114","s":"g1","x":911,"y":5},{"p":"p114","s":"g1","x":922,"y":13},{"p":"p114","s":"g1","x":933,"y":24},{"p":"p114","s":"g1","x":944,"y":35},{"p":"p114","s":"g1","x":955,"y":40},{"p":"p114","s":"g1","x":966,"y":35},{"p":"p114","s":"g1","x":977,"y":24},{"p":"p114","s":"g1","x":988,"y":13},{"p":"p114","s":"g1","x":999,"y":5},{"p":"p114","s":"g1","x":1010,"y":2},
{"p":"p114","s":"g2","x":933,"y":7},{"p":"p114","s":"g2","x":952,"y":22},{"p":"p114","s":"g2","x":971,"y":54},{"p":"p114","s":"g2","x":990,"y":100},{"p":"p114","s":"g2","x":1009,"y":146},{"p":"p114","s":"g2","x":1028,"y":165},{"p":"p114","s":"g2","x":1047,"y":146},{"p":"p114","s":"g2","x":1066,"y":100},{"p":"p114","s":"g2","x":1085,"y":54},{"p":"p114","s":"g2","x":1104,"y":22},{"p":"p114","s":"g2","x":1123,"y":7},
{"p":"p114","s":"g3","x":995,"y":6},{"p":"p114","s":"g3","x":1016,"y":19},{"p":"p114","s":"g3","x":1037,"y":46},{"p":"p114","s":"g3","x":1058,"y":87},{"p":"p114","s":"g3","x":1079,"y":126},{"p":"p114","s":"g3","x":1100,"y":143},{"p":"p114","s":"g3","x":1121,"y":126},{"p":"p114","s":"g3","x":1142,"y":87},{"p":"p114","s":"g3","x":1163,"y":46},{"p":"p114","s":"g3","x":1184,"y":19},{"p":"p114","s":"g3","x":1205,"y":6},
{"p":"p114","s":"g4","x":1195,"y":0.5},{"p":"p114","s":"g4","x":1202,"y":1.6},{"p":"p114","s":"g4","x":1209,"y":3.9},{"p":"p114","s":"g4","x":1216,"y":7.3},{"p":"p114","s":"g4","x":1223,"y":10.6},{"p":"p114","s":"g4","x":1230,"y":12},{"p":"p114","s":"g4","x":1237,"y":10.6},{"p":"p114","s":"g4","x":1244,"y":7.3},{"p":"p114","s":"g4","x":1251,"y":3.9},{"p":"p114","s":"g4","x":1258,"y":1.6},{"p":"p114","s":"g4","x":1265,"y":0.5},
{"p":"p114","s":"g5","x":1232,"y":3},{"p":"p114","s":"g5","x":1236,"y":10},{"p":"p114","s":"g5","x":1241,"y":25},{"p":"p114","s":"g5","x":1245,"y":46},{"p":"p114","s":"g5","x":1250,"y":67},{"p":"p114","s":"g5","x":1254,"y":76},{"p":"p114","s":"g5","x":1259,"y":67},{"p":"p114","s":"g5","x":1263,"y":46},{"p":"p114","s":"g5","x":1268,"y":25},{"p":"p114","s":"g5","x":1272,"y":10},{"p":"p114","s":"g5","x":1277,"y":3},
{"p":"p114","s":"b","x":879,"y":0},{"p":"p114","s":"b","x":1290,"y":0},
{"p":"p12","s":"m","x":870,"y":1},{"p":"p12","s":"m","x":876,"y":-6},{"p":"p12","s":"m","x":884,"y":6},{"p":"p12","s":"m","x":894,"y":8},{"p":"p12","s":"m","x":905,"y":21},{"p":"p12","s":"m","x":915,"y":34},{"p":"p12","s":"m","x":926,"y":48},{"p":"p12","s":"m","x":940,"y":68},{"p":"p12","s":"m","x":950,"y":81},{"p":"p12","s":"m","x":961,"y":88},{"p":"p12","s":"m","x":971,"y":101},{"p":"p12","s":"m","x":982,"y":124},{"p":"p12","s":"m","x":992,"y":144},{"p":"p12","s":"m","x":1006,"y":164},{"p":"p12","s":"m","x":1017,"y":174},{"p":"p12","s":"m","x":1024,"y":170},{"p":"p12","s":"m","x":1031,"y":171},{"p":"p12","s":"m","x":1041,"y":173},{"p":"p12","s":"m","x":1048,"y":168},{"p":"p12","s":"m","x":1055,"y":166},{"p":"p12","s":"m","x":1066,"y":159},{"p":"p12","s":"m","x":1076,"y":162},{"p":"p12","s":"m","x":1090,"y":163},{"p":"p12","s":"m","x":1101,"y":159},{"p":"p12","s":"m","x":1111,"y":138},{"p":"p12","s":"m","x":1122,"y":111},{"p":"p12","s":"m","x":1139,"y":78},{"p":"p12","s":"m","x":1153,"y":48},{"p":"p12","s":"m","x":1167,"y":21},{"p":"p12","s":"m","x":1181,"y":8},{"p":"p12","s":"m","x":1195,"y":4},{"p":"p12","s":"m","x":1209,"y":6},{"p":"p12","s":"m","x":1223,"y":18},{"p":"p12","s":"m","x":1237,"y":34},{"p":"p12","s":"m","x":1248,"y":61},{"p":"p12","s":"m","x":1258,"y":81},{"p":"p12","s":"m","x":1268,"y":61},{"p":"p12","s":"m","x":1277,"y":21},{"p":"p12","s":"m","x":1280,"y":-2},
{"p":"p12","s":"g1","x":907,"y":2},{"p":"p12","s":"g1","x":917,"y":7},{"p":"p12","s":"g1","x":927,"y":18},{"p":"p12","s":"g1","x":937,"y":33},{"p":"p12","s":"g1","x":947,"y":49},{"p":"p12","s":"g1","x":957,"y":55},{"p":"p12","s":"g1","x":967,"y":49},{"p":"p12","s":"g1","x":977,"y":33},{"p":"p12","s":"g1","x":987,"y":18},{"p":"p12","s":"g1","x":997,"y":7},{"p":"p12","s":"g1","x":1007,"y":2},
{"p":"p12","s":"g2","x":935,"y":7},{"p":"p12","s":"g2","x":953,"y":21},{"p":"p12","s":"g2","x":971,"y":51},{"p":"p12","s":"g2","x":989,"y":95},{"p":"p12","s":"g2","x":1007,"y":138},{"p":"p12","s":"g2","x":1025,"y":157},{"p":"p12","s":"g2","x":1043,"y":138},{"p":"p12","s":"g2","x":1061,"y":95},{"p":"p12","s":"g2","x":1079,"y":51},{"p":"p12","s":"g2","x":1097,"y":21},{"p":"p12","s":"g2","x":1115,"y":7},
{"p":"p12","s":"g3","x":1005,"y":6},{"p":"p12","s":"g3","x":1024,"y":18},{"p":"p12","s":"g3","x":1043,"y":44},{"p":"p12","s":"g3","x":1062,"y":83},{"p":"p12","s":"g3","x":1081,"y":120},{"p":"p12","s":"g3","x":1100,"y":136},{"p":"p12","s":"g3","x":1119,"y":120},{"p":"p12","s":"g3","x":1138,"y":83},{"p":"p12","s":"g3","x":1157,"y":44},{"p":"p12","s":"g3","x":1176,"y":18},{"p":"p12","s":"g3","x":1195,"y":6},
{"p":"p12","s":"g4","x":1193,"y":0.7},{"p":"p12","s":"g4","x":1200,"y":2},{"p":"p12","s":"g4","x":1207,"y":4.9},{"p":"p12","s":"g4","x":1214,"y":9.1},{"p":"p12","s":"g4","x":1221,"y":13.2},{"p":"p12","s":"g4","x":1228,"y":15},{"p":"p12","s":"g4","x":1235,"y":13.2},{"p":"p12","s":"g4","x":1242,"y":9.1},{"p":"p12","s":"g4","x":1249,"y":4.9},{"p":"p12","s":"g4","x":1256,"y":2},{"p":"p12","s":"g4","x":1263,"y":0.7},
{"p":"p12","s":"g5","x":1236,"y":4},{"p":"p12","s":"g5","x":1240,"y":11},{"p":"p12","s":"g5","x":1245,"y":26},{"p":"p12","s":"g5","x":1249,"y":49},{"p":"p12","s":"g5","x":1254,"y":71},{"p":"p12","s":"g5","x":1258,"y":81},{"p":"p12","s":"g5","x":1263,"y":71},{"p":"p12","s":"g5","x":1267,"y":49},{"p":"p12","s":"g5","x":1272,"y":26},{"p":"p12","s":"g5","x":1276,"y":11},{"p":"p12","s":"g5","x":1281,"y":4},
{"p":"p12","s":"b","x":870,"y":0},{"p":"p12","s":"b","x":1282,"y":0},
{"p":"p13","s":"m","x":891,"y":-6},{"p":"p13","s":"m","x":898,"y":6},{"p":"p13","s":"m","x":908,"y":9},{"p":"p13","s":"m","x":918,"y":19},{"p":"p13","s":"m","x":928,"y":39},{"p":"p13","s":"m","x":937,"y":56},{"p":"p13","s":"m","x":950,"y":71},{"p":"p13","s":"m","x":964,"y":84},{"p":"p13","s":"m","x":973,"y":93},{"p":"p13","s":"m","x":987,"y":103},{"p":"p13","s":"m","x":1000,"y":121},{"p":"p13","s":"m","x":1013,"y":146},{"p":"p13","s":"m","x":1023,"y":166},{"p":"p13","s":"m","x":1032,"y":173},{"p":"p13","s":"m","x":1039,"y":170},{"p":"p13","s":"m","x":1046,"y":171},{"p":"p13","s":"m","x":1053,"y":167},{"p":"p13","s":"m","x":1059,"y":168},{"p":"p13","s":"m","x":1064,"y":163},{"p":"p13","s":"m","x":1069,"y":161},{"p":"p13","s":"m","x":1078,"y":159},{"p":"p13","s":"m","x":1091,"y":161},{"p":"p13","s":"m","x":1105,"y":159},{"p":"p13","s":"m","x":1114,"y":146},{"p":"p13","s":"m","x":1128,"y":119},{"p":"p13","s":"m","x":1144,"y":79},{"p":"p13","s":"m","x":1157,"y":43},{"p":"p13","s":"m","x":1170,"y":19},{"p":"p13","s":"m","x":1183,"y":4},{"p":"p13","s":"m","x":1196,"y":3},{"p":"p13","s":"m","x":1210,"y":9},{"p":"p13","s":"m","x":1223,"y":23},{"p":"p13","s":"m","x":1236,"y":39},{"p":"p13","s":"m","x":1249,"y":79},{"p":"p13","s":"m","x":1257,"y":73},{"p":"p13","s":"m","x":1265,"y":33},{"p":"p13","s":"m","x":1272,"y":6},{"p":"p13","s":"m","x":1278,"y":-2},
{"p":"p13","s":"g1","x":898,"y":2},{"p":"p13","s":"g1","x":908,"y":7},{"p":"p13","s":"g1","x":918,"y":17},{"p":"p13","s":"g1","x":928,"y":32},{"p":"p13","s":"g1","x":938,"y":46},{"p":"p13","s":"g1","x":948,"y":52},{"p":"p13","s":"g1","x":958,"y":46},{"p":"p13","s":"g1","x":968,"y":32},{"p":"p13","s":"g1","x":978,"y":17},{"p":"p13","s":"g1","x":988,"y":7},{"p":"p13","s":"g1","x":998,"y":2},
{"p":"p13","s":"g2","x":940,"y":7},{"p":"p13","s":"g2","x":958,"y":22},{"p":"p13","s":"g2","x":976,"y":52},{"p":"p13","s":"g2","x":994,"y":97},{"p":"p13","s":"g2","x":1012,"y":141},{"p":"p13","s":"g2","x":1030,"y":160},{"p":"p13","s":"g2","x":1048,"y":141},{"p":"p13","s":"g2","x":1066,"y":97},{"p":"p13","s":"g2","x":1084,"y":52},{"p":"p13","s":"g2","x":1102,"y":22},{"p":"p13","s":"g2","x":1120,"y":7},
{"p":"p13","s":"g3","x":1005,"y":6},{"p":"p13","s":"g3","x":1025,"y":18},{"p":"p13","s":"g3","x":1045,"y":44},{"p":"p13","s":"g3","x":1065,"y":83},{"p":"p13","s":"g3","x":1085,"y":120},{"p":"p13","s":"g3","x":1105,"y":136},{"p":"p13","s":"g3","x":1125,"y":120},{"p":"p13","s":"g3","x":1145,"y":83},{"p":"p13","s":"g3","x":1165,"y":44},{"p":"p13","s":"g3","x":1185,"y":18},{"p":"p13","s":"g3","x":1205,"y":6},
{"p":"p13","s":"g4","x":1190,"y":0.9},{"p":"p13","s":"g4","x":1197,"y":2.7},{"p":"p13","s":"g4","x":1204,"y":6.5},{"p":"p13","s":"g4","x":1211,"y":12},{"p":"p13","s":"g4","x":1218,"y":18},{"p":"p13","s":"g4","x":1225,"y":20},{"p":"p13","s":"g4","x":1232,"y":18},{"p":"p13","s":"g4","x":1239,"y":12},{"p":"p13","s":"g4","x":1246,"y":6.5},{"p":"p13","s":"g4","x":1253,"y":2.7},{"p":"p13","s":"g4","x":1260,"y":0.9},
{"p":"p13","s":"g5","x":1230,"y":3},{"p":"p13","s":"g5","x":1234,"y":11},{"p":"p13","s":"g5","x":1239,"y":26},{"p":"p13","s":"g5","x":1243,"y":48},{"p":"p13","s":"g5","x":1248,"y":70},{"p":"p13","s":"g5","x":1252,"y":79},{"p":"p13","s":"g5","x":1257,"y":70},{"p":"p13","s":"g5","x":1261,"y":48},{"p":"p13","s":"g5","x":1266,"y":26},{"p":"p13","s":"g5","x":1270,"y":11},{"p":"p13","s":"g5","x":1275,"y":3},
{"p":"p13","s":"b","x":885,"y":0},{"p":"p13","s":"b","x":1282,"y":0},
{"p":"p14","s":"m","x":878,"y":2},{"p":"p14","s":"m","x":887,"y":0},{"p":"p14","s":"m","x":893,"y":5},{"p":"p14","s":"m","x":900,"y":17},{"p":"p14","s":"m","x":910,"y":14},{"p":"p14","s":"m","x":920,"y":31},{"p":"p14","s":"m","x":933,"y":47},{"p":"p14","s":"m","x":947,"y":57},{"p":"p14","s":"m","x":957,"y":61},{"p":"p14","s":"m","x":970,"y":67},{"p":"p14","s":"m","x":980,"y":87},{"p":"p14","s":"m","x":993,"y":104},{"p":"p14","s":"m","x":1003,"y":127},{"p":"p14","s":"m","x":1013,"y":151},{"p":"p14","s":"m","x":1023,"y":160},{"p":"p14","s":"m","x":1030,"y":162},{"p":"p14","s":"m","x":1037,"y":164},{"p":"p14","s":"m","x":1044,"y":160},{"p":"p14","s":"m","x":1050,"y":161},{"p":"p14","s":"m","x":1057,"y":158},{"p":"p14","s":"m","x":1063,"y":159},{"p":"p14","s":"m","x":1070,"y":157},{"p":"p14","s":"m","x":1077,"y":161},{"p":"p14","s":"m","x":1083,"y":164},{"p":"p14","s":"m","x":1090,"y":169},{"p":"p14","s":"m","x":1097,"y":165},{"p":"p14","s":"m","x":1103,"y":157},{"p":"p14","s":"m","x":1113,"y":137},{"p":"p14","s":"m","x":1127,"y":104},{"p":"p14","s":"m","x":1140,"y":71},{"p":"p14","s":"m","x":1157,"y":31},{"p":"p14","s":"m","x":1170,"y":11},{"p":"p14","s":"m","x":1183,"y":2},{"p":"p14","s":"m","x":1200,"y":1},{"p":"p14","s":"m","x":1213,"y":11},{"p":"p14","s":"m","x":1227,"y":24},{"p":"p14","s":"m","x":1240,"y":44},{"p":"p14","s":"m","x":1251,"y":74},{"p":"p14","s":"m","x":1260,"y":61},{"p":"p14","s":"m","x":1270,"y":21},{"p":"p14","s":"m","x":1277,"y":1},{"p":"p14","s":"m","x":1287,"y":1},{"p":"p14","s":"m","x":1303,"y":0},
{"p":"p14","s":"g1","x":905,"y":2},{"p":"p14","s":"g1","x":914,"y":7},{"p":"p14","s":"g1","x":923,"y":16},{"p":"p14","s":"g1","x":932,"y":30},{"p":"p14","s":"g1","x":941,"y":44},{"p":"p14","s":"g1","x":950,"y":50},{"p":"p14","s":"g1","x":959,"y":44},{"p":"p14","s":"g1","x":968,"y":30},{"p":"p14","s":"g1","x":977,"y":16},{"p":"p14","s":"g1","x":986,"y":7},{"p":"p14","s":"g1","x":995,"y":2},
{"p":"p14","s":"g2","x":947,"y":7},{"p":"p14","s":"g2","x":965,"y":20},{"p":"p14","s":"g2","x":983,"y":49},{"p":"p14","s":"g2","x":1001,"y":91},{"p":"p14","s":"g2","x":1019,"y":132},{"p":"p14","s":"g2","x":1037,"y":150},{"p":"p14","s":"g2","x":1055,"y":132},{"p":"p14","s":"g2","x":1073,"y":91},{"p":"p14","s":"g2","x":1091,"y":49},{"p":"p14","s":"g2","x":1109,"y":20},{"p":"p14","s":"g2","x":1127,"y":7},
{"p":"p14","s":"g3","x":1010,"y":6},{"p":"p14","s":"g3","x":1028,"y":19},{"p":"p14","s":"g3","x":1046,"y":46},{"p":"p14","s":"g3","x":1064,"y":85},{"p":"p14","s":"g3","x":1082,"y":123},{"p":"p14","s":"g3","x":1100,"y":140},{"p":"p14","s":"g3","x":1118,"y":123},{"p":"p14","s":"g3","x":1136,"y":85},{"p":"p14","s":"g3","x":1154,"y":46},{"p":"p14","s":"g3","x":1172,"y":19},{"p":"p14","s":"g3","x":1190,"y":6},
{"p":"p14","s":"g4","x":1195,"y":0.8},{"p":"p14","s":"g4","x":1202,"y":2.4},{"p":"p14","s":"g4","x":1209,"y":5.9},{"p":"p14","s":"g4","x":1216,"y":10.9},{"p":"p14","s":"g4","x":1223,"y":15.9},{"p":"p14","s":"g4","x":1230,"y":18},{"p":"p14","s":"g4","x":1237,"y":15.9},{"p":"p14","s":"g4","x":1244,"y":10.9},{"p":"p14","s":"g4","x":1251,"y":5.9},{"p":"p14","s":"g4","x":1258,"y":2.4},{"p":"p14","s":"g4","x":1265,"y":0.8},
{"p":"p14","s":"g5","x":1231,"y":3},{"p":"p14","s":"g5","x":1235,"y":10},{"p":"p14","s":"g5","x":1240,"y":24},{"p":"p14","s":"g5","x":1244,"y":44},{"p":"p14","s":"g5","x":1249,"y":64},{"p":"p14","s":"g5","x":1253,"y":73},{"p":"p14","s":"g5","x":1258,"y":64},{"p":"p14","s":"g5","x":1262,"y":44},{"p":"p14","s":"g5","x":1267,"y":24},{"p":"p14","s":"g5","x":1271,"y":10},{"p":"p14","s":"g5","x":1276,"y":3},
{"p":"p14","s":"b","x":875,"y":0},{"p":"p14","s":"b","x":1305,"y":0}
]},
"spacing":0,
"vconcat":[
{"vconcat":[
{
"width":554,"height":389,
"view":{"stroke":null},
"layer":[
{"data":{"name":"a"},"mark":{"type":"line","clip":true,"color":"#000","strokeWidth":1.3},"encoding":{
"x":{"field":"x","type":"quantitative","scale":{"domain":[665.6,1300],"nice":false,"zero":false},"axis":{"title":"Wave number (cm⁻¹)","titleX":292,"titleAlign":"center","titleAnchor":null,"values":[700,750,800,850,900,950,1000,1050,1100,1150,1200,1250,1300],"format":"d","labelExpr":"datum.value % 100 == 0 ? datum.label : ''","tickSize":-7,"tickColor":"#000","tickWidth":1.5,"domain":false,"labelFont":"Liberation Serif","labelFontSize":13,"labelColor":"#333","labelPadding":13,"labelFlush":false,"titleFont":"Liberation Serif","titleFontSize":23,"titleFontWeight":"normal","titleColor":"#000","titlePadding":16}},
"y":{"field":"y","type":"quantitative","scale":{"domain":[0,390],"nice":false,"zero":false},"axis":{"title":"Absorbance (arb.units)","ticks":false,"labels":false,"domain":false,"titleFont":"Liberation Serif","titleFontSize":23,"titleFontWeight":"normal","titleColor":"#000","titlePadding":-11}},
"detail":{"field":"s"}}},
{"data":{"name":"al"},"mark":{"type":"text","font":"Liberation Serif","fontSize":13,"color":"#111"},"encoding":{
"x":{"field":"x","type":"quantitative","title":"Wave number (cm⁻¹)"},
"y":{"field":"y","type":"quantitative","title":"Absorbance (arb.units)"},
"text":{"field":"t"}}},
{"data":{"values":[{"t":"(a)"}]},"mark":{"type":"text","align":"left","baseline":"middle","font":"Liberation Serif","fontSize":22,"color":"#000"},"encoding":{"x":{"datum":624},"y":{"datum":376},"text":{"field":"t"}}},
{"data":{"values":[{"e":"left"}]},"mark":{"type":"rule","color":"#000","strokeWidth":2},"encoding":{"x":{"datum":700},"y":{"datum":0},"y2":{"datum":390}}},
{"data":{"values":[{"e":"right"}]},"mark":{"type":"rule","color":"#000","strokeWidth":2},"encoding":{"x":{"datum":1300},"y":{"datum":0},"y2":{"datum":390}}},
{"data":{"values":[{"e":"top"}]},"mark":{"type":"rule","color":"#000","strokeWidth":2},"encoding":{"x":{"datum":700},"x2":{"datum":1300},"y":{"datum":390}}},
{"data":{"values":[{"e":"bottom"}]},"mark":{"type":"rule","color":"#000","strokeWidth":2},"encoding":{"x":{"datum":700},"x2":{"datum":1300},"y":{"datum":0}}}
]
}
]},
{
"columns":2,
"align":"each",
"spacing":{"row":21,"column":0},
"concat":[
{"width":297,"height":224,
"view":{"stroke":"#222","strokeWidth":1.5},
"layer":[
{"data":{"name":"b"},"transform":[{"filter":"datum.p == 'p08' && datum.s != 'm'"}],"mark":{"type":"line","clip":true,"color":"#555","strokeWidth":1,"strokeDash":[1,3]},"encoding":{
"x":{"field":"x","type":"quantitative","scale":{"domain":[856,1337],"nice":false,"zero":false},"axis":{"title":"Wave number (cm⁻¹)","values":[900,1000,1100,1200,1300],"format":"d","tickSize":-4,"tickColor":"#555","domain":false,"labelFont":"Liberation Sans","labelFontSize":11,"labelColor":"#777","labelPadding":6,"labelFlush":false,"titleFont":"Liberation Serif","titleFontSize":23,"titleFontWeight":"normal","titleColor":"#000","titlePadding":5}},
"y":{"field":"y","type":"quantitative","scale":{"domain":[-28,196],"nice":false,"zero":false},"axis":{"title":"Absorbance (arb.units)","values":[0,28,57,85,113,141,168],"tickSize":-4,"tickColor":"#bbb","domain":false,"labels":false,"titleFont":"Liberation Serif","titleFontSize":19.5,"titleFontWeight":"bold","titleColor":"#000","titlePadding":1}},
"detail":{"field":"s"}}},
{"data":{"name":"b"},"transform":[{"filter":"datum.p == 'p08' && datum.s == 'm'"}],"mark":{"type":"line","clip":true,"color":"#111","strokeWidth":1.1},"encoding":{
"x":{"field":"x","type":"quantitative","title":"Wave number (cm⁻¹)"},"y":{"field":"y","type":"quantitative","title":"Absorbance (arb.units)"}}},
{"data":{"values":[{"t":"O₂/BTMSM= 0.8"}]},"mark":{"type":"text","align":"right","baseline":"alphabetic","font":"Liberation Serif","fontSize":14,"color":"#222"},"encoding":{"x":{"datum":1316},"y":{"datum":170},"text":{"field":"t"}}},
{"data":{"values":[{"t":"(b)"}]},"mark":{"type":"text","align":"left","baseline":"middle","font":"Liberation Serif","fontSize":22,"color":"#000"},"encoding":{"x":{"datum":798},"y":{"datum":229},"text":{"field":"t"}}}
]},
{"width":296,"height":224,
"view":{"stroke":"#666","strokeWidth":1.5},
"layer":[
{"data":{"name":"b"},"transform":[{"filter":"datum.p == 'p09' && datum.s != 'm'"}],"mark":{"type":"line","clip":true,"color":"#bbb","strokeWidth":1.2,"strokeDash":[1,3]},"encoding":{
"x":{"field":"x","type":"quantitative","scale":{"domain":[840,1352],"nice":false,"zero":false},"axis":{"title":"Wave number (cm⁻¹)","values":[900,1000,1100,1200,1300],"format":"d","tickSize":-4,"tickColor":"#aaa","domain":false,"labelFont":"Liberation Sans","labelFontSize":11,"labelColor":"#888","labelPadding":6,"labelFlush":false,"titleFont":"Liberation Serif","titleFontSize":23,"titleFontWeight":"normal","titleColor":"#000","titlePadding":5}},
"y":{"field":"y","type":"quantitative","scale":{"domain":[-28,196],"nice":false,"zero":false},"axis":{"title":null,"values":[0,28,57,85,113,141,168],"tickSize":-4,"tickColor":"#666","domain":false,"labels":false}},
"detail":{"field":"s"}}},
{"data":{"name":"b"},"transform":[{"filter":"datum.p == 'p09' && datum.s == 'm'"}],"mark":{"type":"line","clip":true,"color":"#777","strokeWidth":2},"encoding":{
"x":{"field":"x","type":"quantitative","title":"Wave number (cm⁻¹)"},"y":{"field":"y","type":"quantitative","title":null}}},
{"data":{"values":[{"t":"O₂/BTMSM= 0.9"}]},"mark":{"type":"text","align":"right","baseline":"alphabetic","font":"Liberation Serif","fontSize":14,"color":"#555"},"encoding":{"x":{"datum":1335},"y":{"datum":170},"text":{"field":"t"}}}
]},
{"width":297,"height":231,
"view":{"stroke":"#222","strokeWidth":1.5},
"layer":[
{"data":{"name":"b"},"transform":[{"filter":"datum.p == 'p10' && datum.s != 'm'"}],"mark":{"type":"line","clip":true,"color":"#555","strokeWidth":1,"strokeDash":[1,3]},"encoding":{
"x":{"field":"x","type":"quantitative","scale":{"domain":[850,1350],"nice":false,"zero":false},"axis":{"title":"Wave number (cm⁻¹)","values":[900,1000,1100,1200,1300],"format":"d","tickSize":-4,"tickColor":"#555","domain":false,"labelFont":"Liberation Sans","labelFontSize":11,"labelColor":"#666","labelPadding":6,"labelFlush":false,"titleFont":"Liberation Serif","titleFontSize":23,"titleFontWeight":"normal","titleColor":"#000","titlePadding":5}},
"y":{"field":"y","type":"quantitative","scale":{"domain":[-20,211],"nice":false,"zero":false},"axis":{"title":"Absorbance (arb.units)","values":[0,26,52,78,104,130,156,182],"tickSize":-4,"tickColor":"#444","domain":false,"labels":false,"titleFont":"Liberation Serif","titleFontSize":19.5,"titleFontWeight":"bold","titleColor":"#000","titlePadding":1}},
"detail":{"field":"s"}}},
{"data":{"name":"b"},"transform":[{"filter":"datum.p == 'p10' && datum.s == 'm'"}],"mark":{"type":"line","clip":true,"color":"#111","strokeWidth":1.1},"encoding":{
"x":{"field":"x","type":"quantitative","title":"Wave number (cm⁻¹)"},"y":{"field":"y","type":"quantitative","title":"Absorbance (arb.units)"}}},
{"data":{"values":[{"t":"O₂/BTMSM=1.0"}]},"mark":{"type":"text","align":"right","baseline":"alphabetic","font":"Liberation Serif","fontSize":14,"color":"#222"},"encoding":{"x":{"datum":1328},"y":{"datum":185},"text":{"field":"t"}}}
]},
{"width":296,"height":231,
"view":{"stroke":"#222","strokeWidth":1.5},
"layer":[
{"data":{"name":"b"},"transform":[{"filter":"datum.p == 'p107' && datum.s != 'm'"}],"mark":{"type":"line","clip":true,"color":"#555","strokeWidth":1,"strokeDash":[1,3]},"encoding":{
"x":{"field":"x","type":"quantitative","scale":{"domain":[840,1348],"nice":false,"zero":false},"axis":{"title":"Wave number (cm⁻¹)","values":[900,1000,1100,1200,1300],"format":"d","tickSize":-4,"tickColor":"#555","domain":false,"labelFont":"Liberation Sans","labelFontSize":11,"labelColor":"#666","labelPadding":6,"labelFlush":false,"titleFont":"Liberation Serif","titleFontSize":23,"titleFontWeight":"normal","titleColor":"#000","titlePadding":5}},
"y":{"field":"y","type":"quantitative","scale":{"domain":[-26,205],"nice":false,"zero":false},"axis":{"title":null,"values":[0,33,67,100,133,167],"tickSize":-4,"tickColor":"#444","domain":false,"labels":false}},
"detail":{"field":"s"}}},
{"data":{"name":"b"},"transform":[{"filter":"datum.p == 'p107' && datum.s == 'm'"}],"mark":{"type":"line","clip":true,"color":"#111","strokeWidth":1.1},"encoding":{
"x":{"field":"x","type":"quantitative","title":"Wave number (cm⁻¹)"},"y":{"field":"y","type":"quantitative","title":null}}},
{"data":{"values":[{"t":"O₂/BTMSM= 1.07"}]},"mark":{"type":"text","align":"right","baseline":"alphabetic","font":"Liberation Serif","fontSize":14,"color":"#222"},"encoding":{"x":{"datum":1334},"y":{"datum":179},"text":{"field":"t"}}}
]},
{"width":297,"height":227,
"view":{"stroke":"#222","strokeWidth":1.5},
"layer":[
{"data":{"name":"b"},"transform":[{"filter":"datum.p == 'p114' && datum.s != 'm'"}],"mark":{"type":"line","clip":true,"color":"#555","strokeWidth":1,"strokeDash":[1,3]},"encoding":{
"x":{"field":"x","type":"quantitative","scale":{"domain":[848,1340],"nice":false,"zero":false},"axis":{"title":"Wave number (cm⁻¹)","values":[900,1000,1100,1200,1300],"format":"d","tickSize":-4,"tickColor":"#555","domain":false,"labelFont":"Liberation Sans","labelFontSize":11,"labelColor":"#555","labelPadding":6,"labelFlush":false,"titleFont":"Liberation Serif","titleFontSize":23,"titleFontWeight":"normal","titleColor":"#000","titlePadding":5}},
"y":{"field":"y","type":"quantitative","scale":{"domain":[-22,205],"nice":false,"zero":false},"axis":{"title":"Absorbance (arb.units)","values":[0,29,58,88,117,146,175],"tickSize":-4,"tickColor":"#444","domain":false,"labels":false,"titleFont":"Liberation Serif","titleFontSize":19.5,"titleFontWeight":"bold","titleColor":"#000","titlePadding":1}},
"detail":{"field":"s"}}},
{"data":{"name":"b"},"transform":[{"filter":"datum.p == 'p114' && datum.s == 'm'"}],"mark":{"type":"line","clip":true,"color":"#111","strokeWidth":1.1},"encoding":{
"x":{"field":"x","type":"quantitative","title":"Wave number (cm⁻¹)"},"y":{"field":"y","type":"quantitative","title":"Absorbance (arb.units)"}}},
{"data":{"values":[{"t":"O₂/BTMSM= 1.14"}]},"mark":{"type":"text","align":"right","baseline":"alphabetic","font":"Liberation Serif","fontSize":14,"color":"#222"},"encoding":{"x":{"datum":1325},"y":{"datum":179},"text":{"field":"t"}}}
]},
{"width":296,"height":227,
"view":{"stroke":"#222","strokeWidth":1.5},
"layer":[
{"data":{"name":"b"},"transform":[{"filter":"datum.p == 'p12' && datum.s != 'm'"}],"mark":{"type":"line","clip":true,"color":"#555","strokeWidth":1,"strokeDash":[1,3]},"encoding":{
"x":{"field":"x","type":"quantitative","scale":{"domain":[838,1348],"nice":false,"zero":false},"axis":{"title":"Wave number (cm⁻¹)","values":[900,1000,1100,1200,1300],"format":"d","tickSize":-4,"tickColor":"#555","domain":false,"labelFont":"Liberation Sans","labelFontSize":11,"labelColor":"#555","labelPadding":6,"labelFlush":false,"titleFont":"Liberation Serif","titleFontSize":23,"titleFontWeight":"normal","titleColor":"#000","titlePadding":5}},
"y":{"field":"y","type":"quantitative","scale":{"domain":[-22,205],"nice":false,"zero":false},"axis":{"title":null,"values":[0,45,89,134,179],"tickSize":-4,"tickColor":"#444","domain":false,"labels":false}},
"detail":{"field":"s"}}},
{"data":{"name":"b"},"transform":[{"filter":"datum.p == 'p12' && datum.s == 'm'"}],"mark":{"type":"line","clip":true,"color":"#111","strokeWidth":1.1},"encoding":{
"x":{"field":"x","type":"quantitative","title":"Wave number (cm⁻¹)"},"y":{"field":"y","type":"quantitative","title":null}}},
{"data":{"values":[{"t":"O₂/BTMSM= 1.2"}]},"mark":{"type":"text","align":"right","baseline":"alphabetic","font":"Liberation Serif","fontSize":14,"color":"#222"},"encoding":{"x":{"datum":1331},"y":{"datum":179},"text":{"field":"t"}}}
]},
{"width":297,"height":226,
"view":{"stroke":"#222","strokeWidth":1.5},
"layer":[
{"data":{"name":"b"},"transform":[{"filter":"datum.p == 'p13' && datum.s != 'm'"}],"mark":{"type":"line","clip":true,"color":"#555","strokeWidth":1,"strokeDash":[1,3]},"encoding":{
"x":{"field":"x","type":"quantitative","scale":{"domain":[861,1336],"nice":false,"zero":false},"axis":{"title":"Wave number (cm⁻¹)","values":[900,1000,1100,1200,1300],"format":"d","tickSize":-4,"tickColor":"#555","domain":false,"labelFont":"Liberation Sans","labelFontSize":11,"labelColor":"#555","labelPadding":6,"labelFlush":false,"titleFont":"Liberation Serif","titleFontSize":23,"titleFontWeight":"normal","titleColor":"#000","titlePadding":5}},
"y":{"field":"y","type":"quantitative","scale":{"domain":[-23,203],"nice":false,"zero":false},"axis":{"title":"Absorbance (arb.units)","values":[0,45,89,134,180],"tickSize":-4,"tickColor":"#444","domain":false,"labels":false,"titleFont":"Liberation Serif","titleFontSize":19.5,"titleFontWeight":"bold","titleColor":"#000","titlePadding":1}},
"detail":{"field":"s"}}},
{"data":{"name":"b"},"transform":[{"filter":"datum.p == 'p13' && datum.s == 'm'"}],"mark":{"type":"line","clip":true,"color":"#111","strokeWidth":1.1},"encoding":{
"x":{"field":"x","type":"quantitative","title":"Wave number (cm⁻¹)"},"y":{"field":"y","type":"quantitative","title":"Absorbance (arb.units)"}}},
{"data":{"values":[{"t":"O₂/BTMSM=1.3"}]},"mark":{"type":"text","align":"right","baseline":"alphabetic","font":"Liberation Serif","fontSize":14,"color":"#222"},"encoding":{"x":{"datum":1317},"y":{"datum":177},"text":{"field":"t"}}}
]},
{"width":296,"height":226,
"view":{"stroke":"#222","strokeWidth":1.5},
"layer":[
{"data":{"name":"b"},"transform":[{"filter":"datum.p == 'p14' && datum.s != 'm'"}],"mark":{"type":"line","clip":true,"color":"#555","strokeWidth":1,"strokeDash":[1,3]},"encoding":{
"x":{"field":"x","type":"quantitative","scale":{"domain":[852,1340],"nice":false,"zero":false},"axis":{"title":"Wave number (cm⁻¹)","values":[900,1000,1100,1200,1300],"format":"d","tickSize":-4,"tickColor":"#555","domain":false,"labelFont":"Liberation Sans","labelFontSize":11,"labelColor":"#555","labelPadding":6,"labelFlush":false,"titleFont":"Liberation Serif","titleFontSize":23,"titleFontWeight":"normal","titleColor":"#000","titlePadding":5}},
"y":{"field":"y","type":"quantitative","scale":{"domain":[-29,197],"nice":false,"zero":false},"axis":{"title":null,"values":[0,37,72,107,144,179],"tickSize":-4,"tickColor":"#444","domain":false,"labels":false}},
"detail":{"field":"s"}}},
{"data":{"name":"b"},"transform":[{"filter":"datum.p == 'p14' && datum.s == 'm'"}],"mark":{"type":"line","clip":true,"color":"#111","strokeWidth":1.1},"encoding":{
"x":{"field":"x","type":"quantitative","title":"Wave number (cm⁻¹)"},"y":{"field":"y","type":"quantitative","title":null}}},
{"data":{"values":[{"t":"O₂/BTMSM=1.4"}]},"mark":{"type":"text","align":"right","baseline":"alphabetic","font":"Liberation Serif","fontSize":14,"color":"#222"},"encoding":{"x":{"datum":1319},"y":{"datum":171},"text":{"field":"t"}}}
]}
]
}
]
}
